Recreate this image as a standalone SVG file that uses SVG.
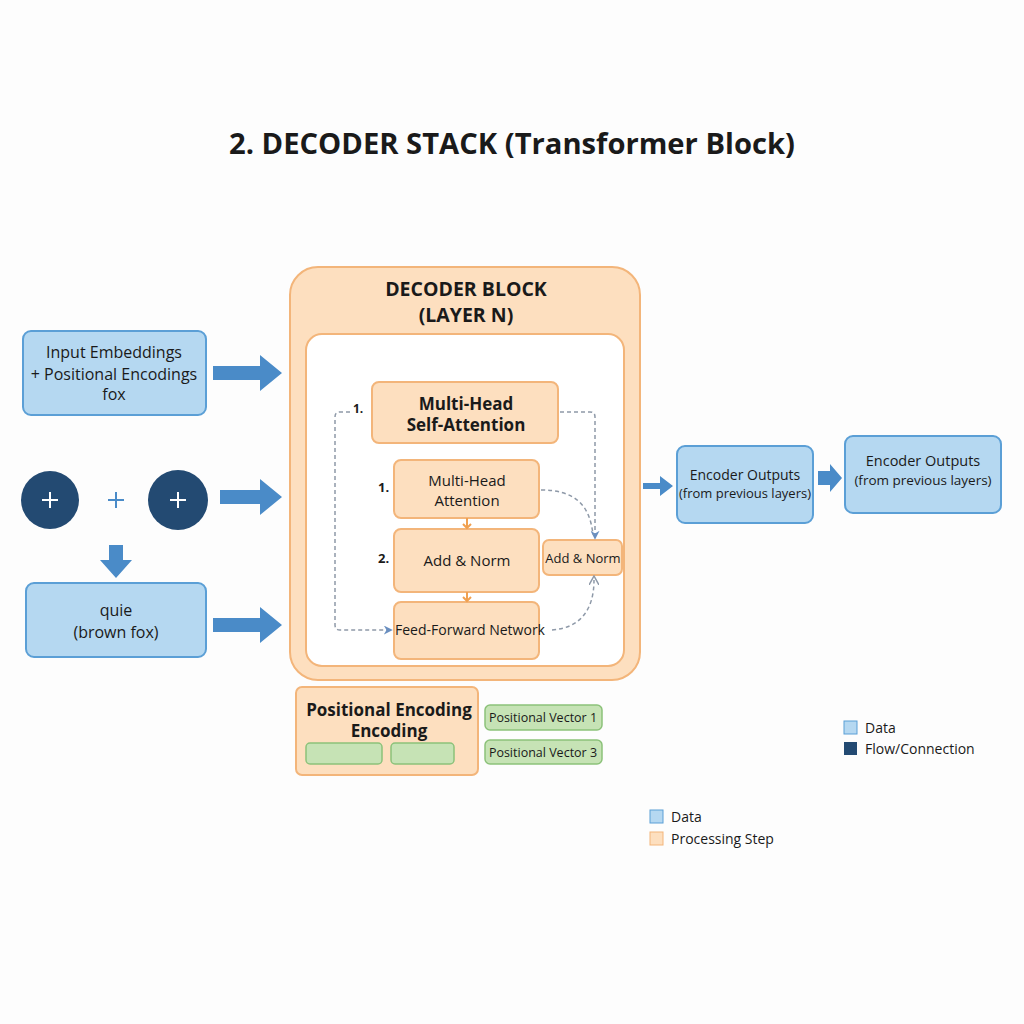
<svg xmlns="http://www.w3.org/2000/svg" width="1024" height="1024" viewBox="0 0 1024 1024">
<defs>
<style>
text{font-family:"Open Sans","Noto Sans","Liberation Sans",sans-serif;fill:#1a1a1a}
.data{fill:#b5d8f1;stroke:#5b9fd6;stroke-width:2}
.proc{fill:#fddfbf;stroke:#f3b57a;stroke-width:2}
.green{fill:#c6e3b5;stroke:#8cc27a;stroke-width:1.5}
.dark{fill:#234a72}
.barrow{fill:#4a8bc8}
.dash{fill:none;stroke:#8e99a8;stroke-width:1.5;stroke-dasharray:4 3}
.c{text-anchor:middle}
</style>
<marker id="ah" viewBox="0 0 10 10" refX="8" refY="5" markerWidth="9" markerHeight="9" orient="auto-start-reverse" markerUnits="userSpaceOnUse">
<path d="M0,0 L10,5 L0,10 L3,5 z" fill="#6a8fc0"/>
</marker>
<marker id="oh" viewBox="0 0 10 10" refX="5" refY="5" markerWidth="10" markerHeight="10" orient="auto" markerUnits="userSpaceOnUse">
<path d="M0,0 L9,5 L0,10" fill="none" stroke="#8e99a8" stroke-width="1.5"/>
</marker>
</defs>
<rect width="1024" height="1024" fill="#fdfdfd"/>
<text x="512" y="154" class="c" font-size="29" font-weight="700" textLength="566" lengthAdjust="spacingAndGlyphs">2. DECODER STACK (Transformer Block)</text>

<g id="decoder-block">
<rect x="290" y="267" width="350" height="413" rx="28" class="proc"/>
<rect x="306" y="334" width="318" height="332" rx="16" fill="#ffffff" stroke="#f3b57a" stroke-width="2"/>
<text x="466" y="296" class="c" font-size="19.5" font-weight="700">DECODER BLOCK</text>
<text x="466" y="322" class="c" font-size="19.5" font-weight="700">(LAYER N)</text>
</g>

<g id="self-attention">
<rect x="372" y="382" width="186" height="61" rx="7" class="proc"/>
<text x="466" y="410" class="c" font-size="17" font-weight="700">Multi-Head</text>
<text x="466" y="431" class="c" font-size="17" font-weight="700">Self-Attention</text>
<text x="353" y="413" font-size="12" font-weight="700">1.</text>
</g>

<g id="multi-head-attention">
<rect x="394" y="460" width="145" height="58" rx="7" class="proc"/>
<text x="467" y="486" class="c" font-size="15">Multi-Head</text>
<text x="467" y="506" class="c" font-size="15">Attention</text>
<text x="378" y="492" font-size="13" font-weight="700">1.</text>
</g>

<g id="add-norm">
<rect x="394" y="529" width="145" height="63" rx="7" class="proc"/>
<text x="467" y="566" class="c" font-size="15">Add &amp; Norm</text>
<text x="378" y="563" font-size="13" font-weight="700">2.</text>
</g>

<g id="feed-forward">
<rect x="394" y="602" width="145" height="57" rx="7" class="proc"/>
<text x="470" y="635" class="c" font-size="14" textLength="150" lengthAdjust="spacingAndGlyphs">Feed-Forward Network</text>
</g>

<g id="add-norm-small">
<rect x="543" y="540" width="79" height="35" rx="6" class="proc"/>
<text x="583" y="563" class="c" font-size="13">Add &amp; Norm</text>
</g>

<g id="input-embeddings">
<rect x="23" y="331" width="183" height="84" rx="8" class="data"/>
<text x="114" y="358" class="c" font-size="16">Input Embeddings</text>
<text x="114" y="380" class="c" font-size="16">+ Positional Encodings</text>
<text x="114" y="400" class="c" font-size="16">fox</text>
</g>

<g id="plus-left">
<circle cx="50" cy="500" r="29" class="dark"/>
<path d="M42,500 H58 M50,492 V508" stroke="#ffffff" stroke-width="2"/>
</g>
<g id="plus-mid">
<path d="M108,500 H124 M116,492 V508" stroke="#4a8bc8" stroke-width="2"/>
</g>
<g id="plus-right">
<circle cx="178" cy="500" r="30" class="dark"/>
<path d="M170,500 H186 M178,492 V508" stroke="#ffffff" stroke-width="2"/>
</g>

<g id="quie">
<rect x="26" y="583" width="180" height="74" rx="8" class="data"/>
<text x="116" y="616" class="c" font-size="16">quie</text>
<text x="116" y="638" class="c" font-size="16">(brown fox)</text>
</g>

<g id="encoder-outputs-1">
<rect x="677" y="446" width="136" height="77" rx="8" class="data"/>
<text x="745" y="480" class="c" font-size="14">Encoder Outputs</text>
<text x="745" y="498" class="c" font-size="13" textLength="132" lengthAdjust="spacingAndGlyphs">(from previous layers)</text>
</g>

<g id="encoder-outputs-2">
<rect x="845" y="436" width="156" height="77" rx="8" class="data"/>
<text x="923" y="466" class="c" font-size="14.5">Encoder Outputs</text>
<text x="923" y="485" class="c" font-size="13.5">(from previous layers)</text>
</g>

<g id="positional-encoding">
<rect x="296" y="687" width="182" height="88" rx="6" class="proc"/>
<text x="389" y="716" class="c" font-size="17" font-weight="700">Positional Encoding</text>
<text x="389" y="737" class="c" font-size="17" font-weight="700">Encoding</text>
<rect x="306" y="743" width="76" height="21" rx="4" class="green"/>
<rect x="391" y="743" width="63" height="21" rx="4" class="green"/>
</g>

<g id="positional-vector-1">
<rect x="485" y="705" width="117" height="25" rx="5" class="green"/>
<text x="543" y="722" class="c" font-size="12.5">Positional Vector 1</text>
</g>
<g id="positional-vector-3">
<rect x="485" y="740" width="117" height="24" rx="5" class="green"/>
<text x="543" y="757" class="c" font-size="12.5">Positional Vector 3</text>
</g>

<g id="legend-1">
<rect x="844" y="721" width="13" height="13" fill="#b5d8f1" stroke="#5b9fd6" stroke-width="1"/>
<text x="865" y="733" font-size="14">Data</text>
<rect x="844" y="742" width="13" height="13" class="dark"/>
<text x="865" y="754" font-size="14">Flow/Connection</text>
</g>
<g id="legend-2">
<rect x="650" y="810" width="13" height="13" fill="#b5d8f1" stroke="#5b9fd6" stroke-width="1"/>
<text x="671" y="822" font-size="14">Data</text>
<rect x="650" y="832" width="13" height="13" fill="#fddfbf" stroke="#f3b57a" stroke-width="1"/>
<text x="671" y="844" font-size="14">Processing Step</text>
</g>

<g id="connectors">
<path class="barrow" d="M213,366 H260 V355 L282,373 L260,391 V380 H213 z"/>
<path class="barrow" d="M220,490 H260 V479 L282,497 L260,515 V504 H220 z"/>
<path class="barrow" d="M213,618 H260 V607 L282,625 L260,643 V632 H213 z"/>
<path class="barrow" d="M109,545 H123 V560 H132 L116,578 L100,560 H109 z"/>
<path class="barrow" d="M643,483 H660 V476 L673,486 L660,496 V489 H643 z"/>
<path class="barrow" d="M818,471 H830 V464 L842,478 L830,492 V485 H818 z"/>
<path d="M467,518 V527" stroke="#f0a050" stroke-width="2" fill="none"/>
<path d="M463,524 L467,528 L471,524" stroke="#f0a050" stroke-width="2" fill="none"/>
<path d="M467,592 V601" stroke="#f0a050" stroke-width="2" fill="none"/>
<path d="M463,597 L467,601 L471,597" stroke="#f0a050" stroke-width="2" fill="none"/>
<path class="dash" d="M350,412 H340 Q335,412 335,417 V625 Q335,630 340,630 H391" marker-end="url(#ah)"/>
<path class="dash" d="M560,412 H590 Q595,412 595,417 V538" marker-end="url(#ah)"/>
<path class="dash" d="M541,490 C575,490 590,505 593,535"/>
<path class="dash" d="M552,630 C580,628 594,610 594,580" marker-end="url(#oh)"/>
</g>
</svg>
